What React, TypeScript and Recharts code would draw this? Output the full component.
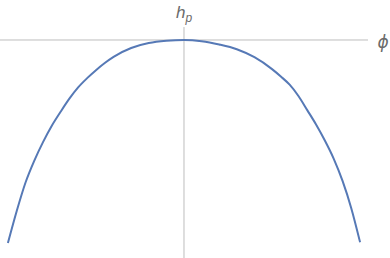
import React from 'react';
import { LineChart, Line, XAxis, YAxis, ReferenceLine } from 'recharts';

// phi in [-1, 1], h_p normalised so the peak is 0 and the ends are -1
const phi = [-1.0, -0.95, -0.9, -0.85, -0.8, -0.75, -0.7, -0.65, -0.6, -0.55, -0.5, -0.45, -0.4, -0.3, -0.2, -0.1, 0, 0.1, 0.2, 0.3, 0.4, 0.5, 0.55, 0.6, 0.65, 0.7, 0.75, 0.8, 0.85, 0.9, 0.95, 1.0];
const hp = [-0.99, -0.834, -0.695, -0.588, -0.497, -0.417, -0.349, -0.285, -0.23, -0.186, -0.147, -0.112, -0.082, -0.039, -0.015, -0.004, 0, -0.006, -0.022, -0.045, -0.084, -0.142, -0.178, -0.218, -0.273, -0.342, -0.412, -0.49, -0.578, -0.686, -0.82, -0.986];

const data = phi.map((p, i) => ({ phi: p, hp: hp[i] }));

const axisColor = '#bdbdbd';
const labelColor = '#6b6b6b';

const HpLabel = ({ viewBox }: any) => (
  <text x={viewBox.x} y={18} textAnchor="middle" fill={labelColor} fontFamily="Liberation Sans, Arial, sans-serif" fontStyle="italic" fontSize={17}>
    h<tspan fontSize={12} dy={4}>p</tspan>
  </text>
);

const PhiLabel = ({ viewBox }: any) => (
  <text x={viewBox.x + viewBox.width + 15} y={viewBox.y + 8} textAnchor="middle" fill={labelColor} fontFamily="DejaVu Sans, sans-serif" fontStyle="italic" fontSize={17}>
    ϕ
  </text>
);

export default function App() {
  return (
    <div style={{ position: 'absolute', left: 0, top: 0 }}>
      <LineChart width={390} height={258} data={data} margin={{ top: 0, right: 0, bottom: 0, left: 0 }}>
        <XAxis type="number" dataKey="phi" domain={[-1.045, 1.17]} hide />
        <YAxis type="number" domain={[-1.063, 0.195]} hide />
        <ReferenceLine
          segment={[{ x: -1.045, y: 0 }, { x: 1.045, y: 0 }]}
          stroke={axisColor}
          strokeWidth={1}
          label={<PhiLabel />}
        />
        <ReferenceLine
          segment={[{ x: 0, y: 0.063 }, { x: 0, y: -1.063 }]}
          stroke={axisColor}
          strokeWidth={1}
          label={<HpLabel />}
        />
        <Line type="monotone" dataKey="hp" stroke="#5679b6" strokeWidth={2} dot={false} activeDot={false} isAnimationActive={false} />
      </LineChart>
    </div>
  );
}
